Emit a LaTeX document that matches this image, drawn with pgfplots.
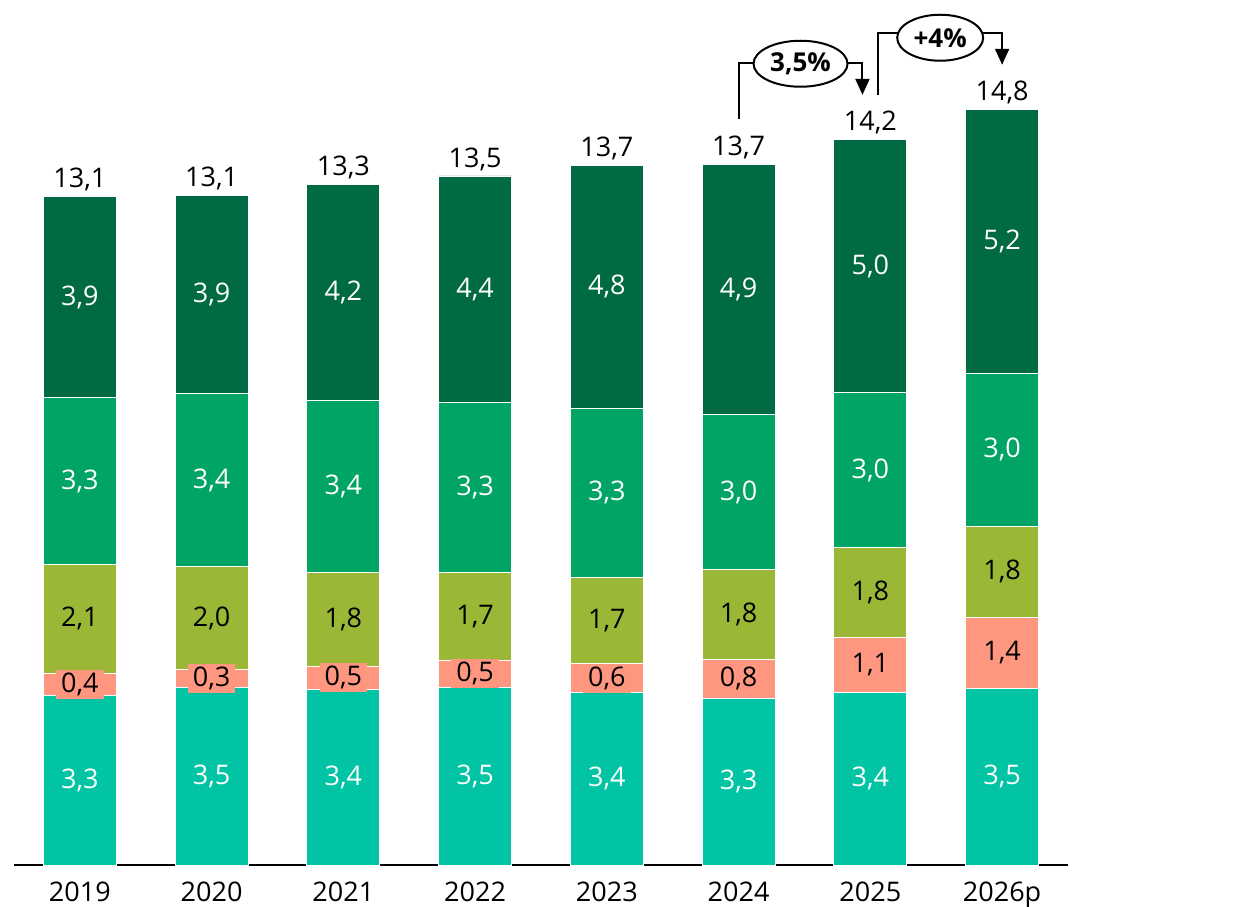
\documentclass[border=0pt]{standalone}
\usepackage{pgfplots}
\pgfplotsset{compat=1.18}
\usepackage{pgfplotstable}
\usepackage{fontspec}
\setmainfont{Open Sans}
\usetikzlibrary{shapes.geometric,arrows.meta}

\definecolor{cteal}{RGB}{0,196,163}
\definecolor{csalmon}{RGB}{255,150,128}
\definecolor{colive}{RGB}{155,183,54}
\definecolor{cgreen}{RGB}{0,164,101}
\definecolor{cdark}{RGB}{0,107,67}

% segment values per year (bottom to top), total shown on top
\pgfplotstableread{
x a b c d e total
0 3.33 0.43 2.13 3.27 3.94 13.1
1 3.49 0.34 2.02 3.39 3.88 13.1
2 3.44 0.46 1.84 3.37 4.23 13.3
3 3.49 0.53 1.72 3.33 4.44 13.5
4 3.38 0.57 1.68 3.33 4.76 13.7
5 3.27 0.76 1.76 3.04 4.91 13.7
6 3.38 1.08 1.76 3.04 4.97 14.2
7 3.47 1.39 1.78 3.00 5.17 14.8
}\data
% label positions: middle of each segment, top of the stack
\pgfplotstablecreatecol[create col/expr={\thisrow{a}/2}]{ma}\data
\pgfplotstablecreatecol[create col/expr={\thisrow{a}+\thisrow{b}/2}]{mb}\data
\pgfplotstablecreatecol[create col/expr={\thisrow{a}+\thisrow{b}+\thisrow{c}/2}]{mc}\data
\pgfplotstablecreatecol[create col/expr={\thisrow{a}+\thisrow{b}+\thisrow{c}+\thisrow{d}/2}]{md}\data
\pgfplotstablecreatecol[create col/expr={\thisrow{a}+\thisrow{b}+\thisrow{c}+\thisrow{d}+\thisrow{e}/2}]{me}\data
\pgfplotstablecreatecol[create col/expr={\thisrow{a}+\thisrow{b}+\thisrow{c}+\thisrow{d}+\thisrow{e}}]{top}\data

\newcommand{\lbl}{\fontsize{13.5}{16}\selectfont}
\newcommand{\blbl}{\fontsize{13}{15}\selectfont\bfseries}

\pgfplotsset{
  frame/.style={width=527pt, height=432.5pt, scale only axis,
    xmin=-0.5, xmax=7.5, ymin=0, ymax=16.96, clip=false},
  seg/.style={fill=#1, draw=white, line width=0.4pt},
  lab/.style={draw=none, mark=none, nodes near coords,
    nodes near coords style={anchor=center, #1}},
}

\begin{document}
\begin{tikzpicture}
\useasboundingbox (-7pt,-20.5pt) rectangle (620pt,432.5pt);
\begin{axis}[
  frame,
  ybar stacked, bar width=36.5pt,
  axis x line=bottom, axis y line=none,
  x axis line style={-, line width=1pt},
  xtick=data, xticklabels={2019,2020,2021,2022,2023,2024,2025,2026p},
  major tick length=0pt,
  xticklabel style={font=\lbl, anchor=north, yshift=-5pt},
]
\addplot[seg=cteal] table[x=x, y=a] {\data};
\addplot[seg=csalmon] table[x=x, y=b] {\data};
\addplot[seg=colive] table[x=x, y=c] {\data};
\addplot[seg=cgreen] table[x=x, y=d] {\data};
\addplot[seg=cdark] table[x=x, y=e] {\data};
\end{axis}

\begin{axis}[
  frame, hide axis,
  point meta=explicit,
  every node near coord/.append style={font=\lbl},
  /pgf/number format/fixed,
  /pgf/number format/fixed zerofill,
  /pgf/number format/precision=1,
  /pgf/number format/use comma,
  /pgf/number format/assume math mode=true,
]
\addplot[lab={text=white}] table[x=x, y=ma, meta=a] {\data};
\addplot[lab={text=black, fill=csalmon, inner xsep=2.5pt, inner ysep=1.5pt}] table[x=x, y=mb, meta=b] {\data};
\addplot[lab={text=black}] table[x=x, y=mc, meta=c] {\data};
\addplot[lab={text=white}] table[x=x, y=md, meta=d] {\data};
\addplot[lab={text=white}] table[x=x, y=me, meta=e] {\data};
\addplot[lab={anchor=south, inner sep=2.5pt, text=black}] table[x=x, y=top, meta=total] {\data};

% growth annotations
\draw[line width=1pt, -{Triangle[width=7pt,length=8pt]}]
  (axis cs:5,14.63) -- (axis cs:5,15.73) -- (axis cs:5.94,15.73) -- (axis cs:5.94,15.10);
\node[draw, ellipse, fill=white, line width=1pt, font=\blbl,
  minimum width=47pt, minimum height=23pt, inner sep=0pt] at (axis cs:5.47,15.71) {3,5\%};
\draw[line width=1pt, -{Triangle[width=7pt,length=8pt]}]
  (axis cs:6.06,15.10) -- (axis cs:6.06,16.31) -- (axis cs:7.00,16.31) -- (axis cs:7.00,15.69);
\node[draw, ellipse, fill=white, line width=1pt, font=\blbl,
  minimum width=43pt, minimum height=23pt, inner sep=0pt] at (axis cs:6.53,16.22) {+4\%};
\end{axis}
\end{tikzpicture}
\end{document}
